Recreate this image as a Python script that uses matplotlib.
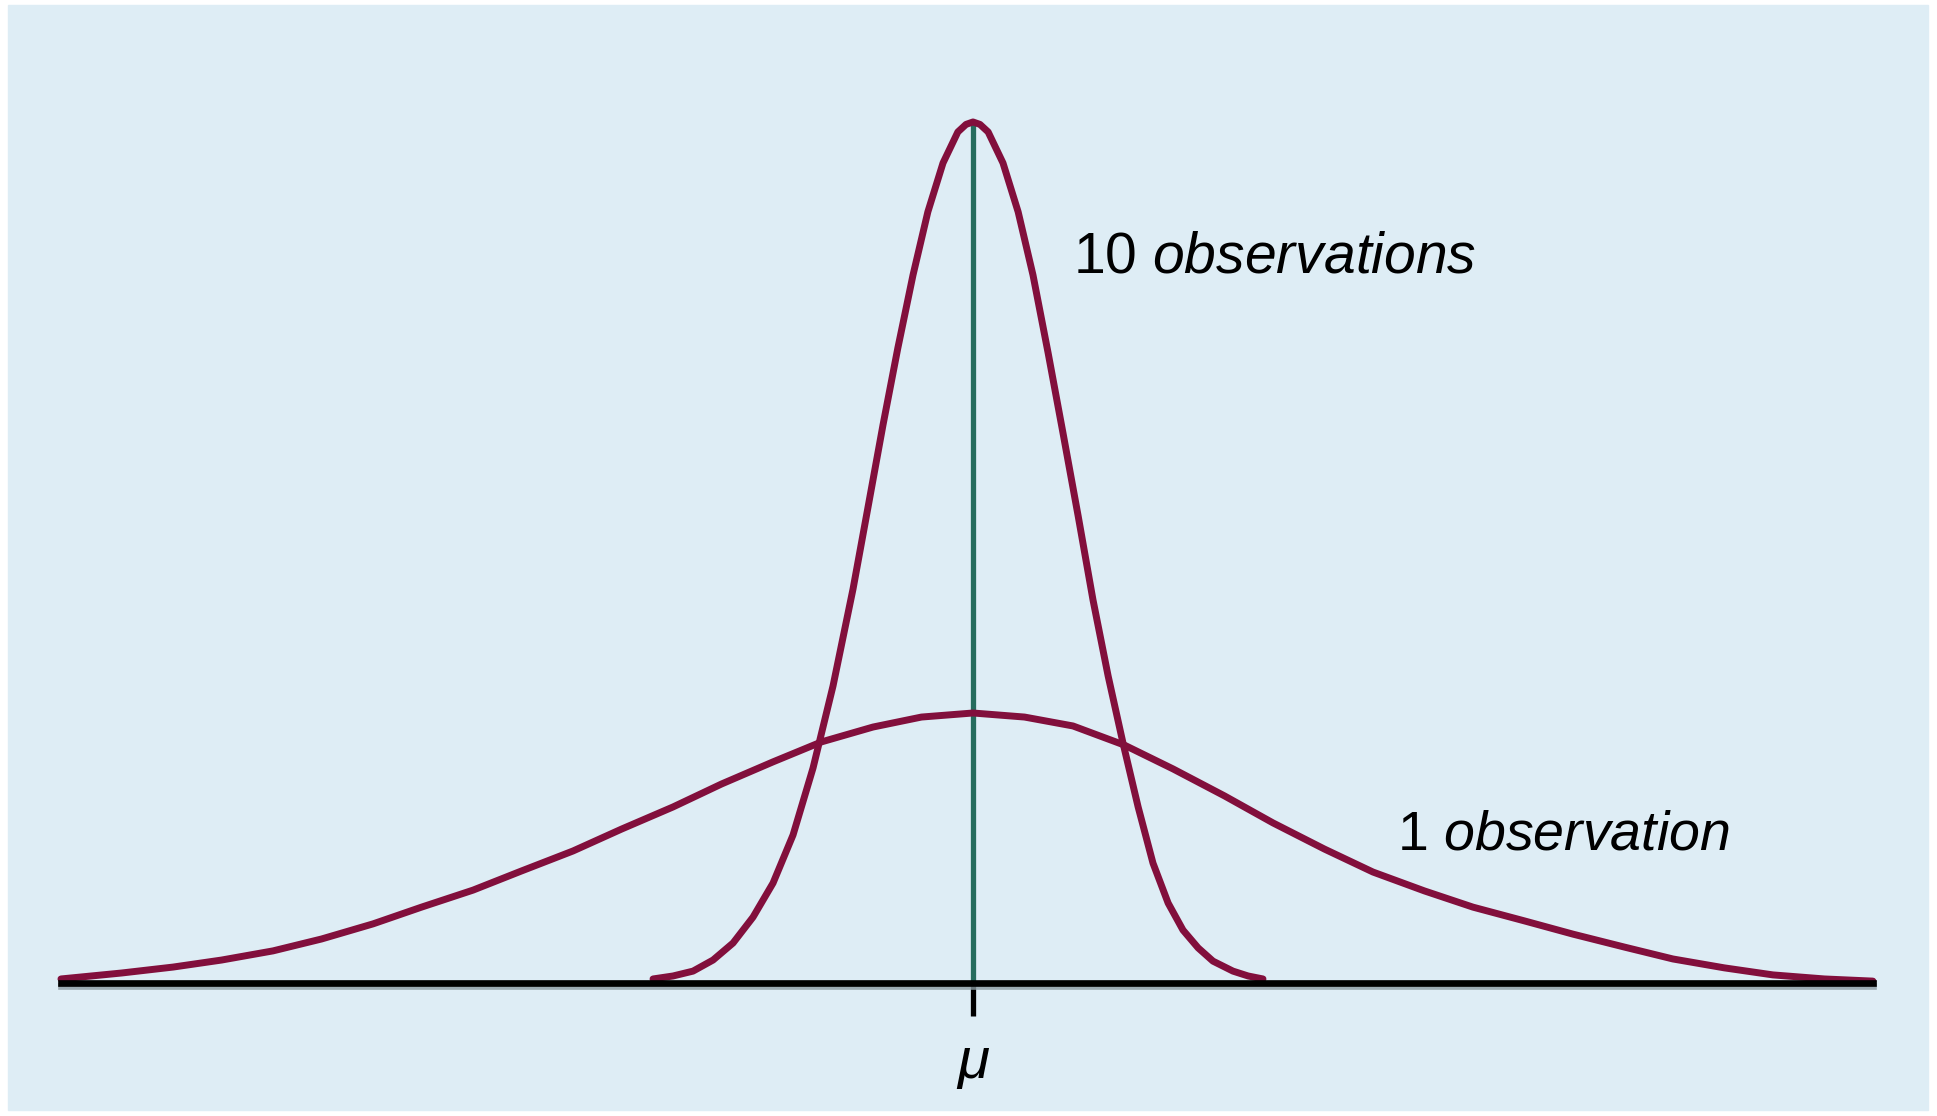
import matplotlib.pyplot as plt
import matplotlib.patheffects as pe
from matplotlib.patches import Rectangle
import numpy as np

plt.rcParams['font.family'] = ['Liberation Sans', 'DejaVu Sans']
plt.rcParams['mathtext.fontset'] = 'custom'
plt.rcParams['mathtext.rm'] = 'Liberation Sans'
plt.rcParams['mathtext.it'] = 'Liberation Sans:italic'

# Sampling distributions of the mean, x in units of the single-observation sd
mu = 0.0
wide_x = [-3.01, -2.81, -2.64, -2.48, -2.31, -2.15, -1.98, -1.82, -1.65, -1.49,
          -1.32, -1.16, -0.99, -0.83, -0.66, -0.50, -0.33, -0.17, 0.0,
          0.17, 0.33, 0.50, 0.66, 0.83, 0.99, 1.16, 1.32, 1.49, 1.65,
          1.82, 1.98, 2.15, 2.31, 2.48, 2.64, 2.81, 2.97]
wide_y = [0.015, 0.037, 0.059, 0.085, 0.119, 0.163, 0.219, 0.281, 0.344, 0.415,
          0.489, 0.570, 0.652, 0.737, 0.819, 0.893, 0.948, 0.985, 1.000,
          0.985, 0.952, 0.881, 0.793, 0.693, 0.593, 0.496, 0.411, 0.341, 0.281,
          0.230, 0.181, 0.133, 0.089, 0.056, 0.030, 0.015, 0.007]

narrow_x = [-1.056, -0.990, -0.924, -0.858, -0.792, -0.726, -0.660, -0.594, -0.528,
            -0.462, -0.396, -0.347, -0.297, -0.248, -0.198, -0.149, -0.099, -0.050,
            -0.023, 0.0, 0.023,
            0.050, 0.099, 0.149, 0.198, 0.248, 0.297, 0.347, 0.396, 0.446,
            0.495, 0.545, 0.594, 0.644, 0.693, 0.743, 0.792, 0.858, 0.908, 0.957]
narrow_y = [0.015, 0.026, 0.044, 0.085, 0.148, 0.244, 0.370, 0.548, 0.796,
            1.100, 1.459, 1.759, 2.067, 2.352, 2.622, 2.856, 3.037, 3.152,
            3.180, 3.189, 3.180,
            3.152, 3.037, 2.856, 2.622, 2.333, 2.037, 1.730, 1.419, 1.137,
            0.889, 0.652, 0.444, 0.296, 0.196, 0.130, 0.081, 0.044, 0.026, 0.015]

labels = ["10 $\\mathit{observations}$", "1 $\\mathit{observation}$"]

curve_color = '#820f3c'

fig = plt.figure(figsize=(19.37, 11.16), dpi=100, facecolor='white')
fig.patches.append(Rectangle((8 / 1937, 6 / 1116), 1920 / 1937, 1105 / 1116,
                             transform=fig.transFigure, color='#deedf5', zorder=-1))

ax = fig.add_axes([0, 0, 1, 1])
ax.patch.set_visible(False)
ax.set_xlim(-973 / 303, 964 / 303)
ax.set_ylim(-133 / 270, 983 / 270)

# line at the mean, up to the top of the narrow curve
ax.vlines(mu, 0, max(narrow_y), color='#256c5d', lw=3.8, zorder=1)

for xs, ys in [(wide_x, wide_y), (narrow_x, narrow_y)]:
    ax.plot(xs, ys, color=curve_color, lw=5.0, solid_capstyle='round',
            solid_joinstyle='round', zorder=2)

ax.text(0.33, 2.633, labels[0], fontsize=41, ha='left', va='baseline')
ax.text(1.40, 0.493, labels[1], fontsize=40, ha='left', va='baseline')

# baseline axis with a single tick at mu
for side in ['left', 'right', 'top']:
    ax.spines[side].set_visible(False)
bottom = ax.spines['bottom']
bottom.set_position(('data', 0))
bottom.set_bounds(wide_x[0], wide_x[-1])
bottom.set_linewidth(4.8)
bottom.set_zorder(3)
bottom.set_path_effects([pe.SimpleLineShadow(offset=(0, -2), shadow_color='#8c9ba3', alpha=0.8),
                         pe.Normal()])
ax.set_yticks([])
ax.set_xticks([mu])
ax.set_xticklabels([r'$\mu$'])
ax.tick_params(axis='x', direction='out', length=24, width=3.8, color='black',
               pad=15, labelsize=42)

fig.savefig('out.png', dpi=100, facecolor=fig.get_facecolor())
